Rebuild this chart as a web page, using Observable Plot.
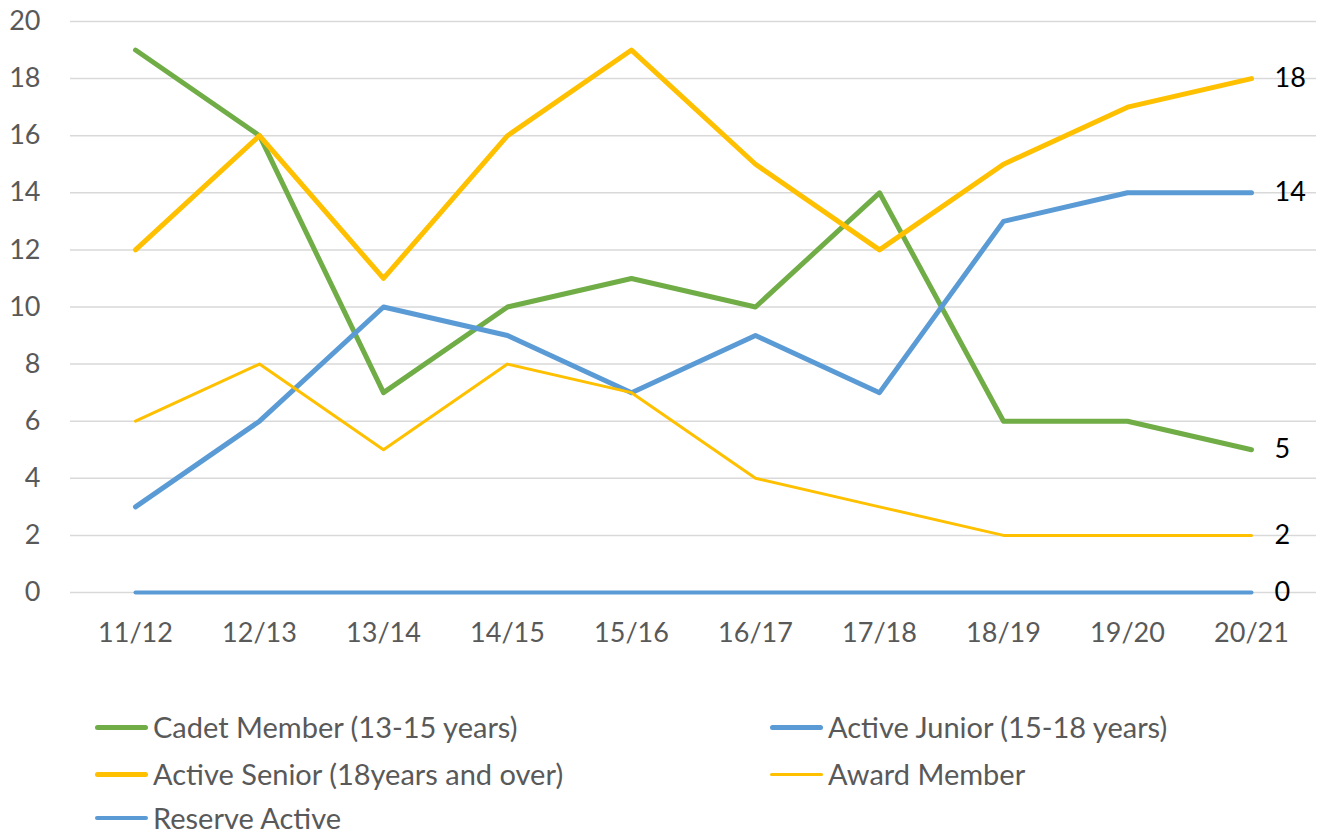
<!DOCTYPE html>
<html>
<head>
<meta charset="utf-8">
<script src="https://cdn.jsdelivr.net/npm/d3@7"></script>
<script src="https://cdn.jsdelivr.net/npm/@observablehq/plot@0.6"></script>
<style>
  html, body { margin: 0; padding: 0; background: #fff; }
  body { width: 1325px; height: 833px; overflow: hidden; font-family: Lato, "Open Sans", sans-serif; }
  #legend { position: relative; height: 153px; font-family: Lato, sans-serif; font-size: 29px; color: #595959; }
  .item { position: absolute; display: flex; align-items: center; white-space: nowrap; line-height: 28px; }
  .sw { width: 53px; border-radius: 3px; margin-right: 5px; }
</style>
</head>
<body>
<div id="chart"></div>
<div id="legend"></div>
<script>
const seasons = ["11/12","12/13","13/14","14/15","15/16","16/17","17/18","18/19","19/20","20/21"];
const cadet   = [19,16,7,10,11,10,14,6,6,5];
const junior  = [3,6,10,9,7,9,7,13,14,14];
const senior  = [12,16,11,16,19,15,12,15,17,18];
const award   = [6,8,5,8,7,4,3,2,2,2];
const reserve = [0,0,0,0,0,0,0,0,0,0];
const yTicks  = [0,2,4,6,8,10,12,14,16,18,20];

const seriesNames = ["Cadet Member (13-15 years)","Active Junior (15-18 years)","Active Senior (18years and over)","Award Member","Reserve Active"];
const seriesValues = [cadet, junior, senior, award, reserve];
const seriesColors = ["#70AD47","#5B9BD5","#FFC000","#FFC000","#5B9BD5"];
const seriesWidths = [5, 5, 5, 3, 4];

const lineMarks = seriesValues.map((vals, i) =>
  Plot.line(seasons.map((s, j) => ({s, v: vals[j]})), {
    x: "s", y: "v", stroke: seriesColors[i], strokeWidth: seriesWidths[i],
    strokeLinecap: "round", strokeLinejoin: "round"
  })
);
const endData = seriesValues.map((vals) => ({s: seasons[seasons.length-1], v: vals[vals.length-1]}));

const chart = Plot.plot({
  width: 1325,
  height: 680,
  marginLeft: 70,
  marginRight: 9,
  marginTop: 21,
  marginBottom: 88,
  style: {fontFamily: "Lato, sans-serif", fontSize: "27px", color: "#595959", background: "#fff"},
  x: {type: "point", domain: seasons, padding: 0.5, label: null},
  y: {domain: [0, 20], label: null},
  marks: [
    Plot.ruleY(yTicks, {stroke: "#d9d9d9", strokeWidth: 1.5}),
    Plot.axisY({ticks: yTicks, tickSize: 0, tickPadding: 30, label: null, fill: "#595959"}),
    Plot.axisX({tickSize: 0, tickPadding: 30, label: null, fill: "#595959"}),
    ...lineMarks,
    Plot.text(endData, {x: "s", y: "v", text: d => String(d.v), dx: 23, textAnchor: "start", fill: "#000", fontSize: 27})
  ]
});
document.getElementById("chart").appendChild(chart);

const legend = document.getElementById("legend");
const pos = [[95, 727], [770, 727], [95, 774], [770, 774], [95, 818]];
seriesNames.forEach((name, i) => {
  const it = document.createElement("div");
  it.className = "item";
  it.style.left = pos[i][0] + "px";
  it.style.top = (pos[i][1] - 680 - 14) + "px";
  it.style.height = "28px";
  const sw = document.createElement("div");
  sw.className = "sw";
  sw.style.background = seriesColors[i];
  sw.style.height = seriesWidths[i] + "px";
  const tx = document.createElement("span");
  tx.textContent = name;
  it.appendChild(sw); it.appendChild(tx);
  legend.appendChild(it);
});
</script>
</body>
</html>
